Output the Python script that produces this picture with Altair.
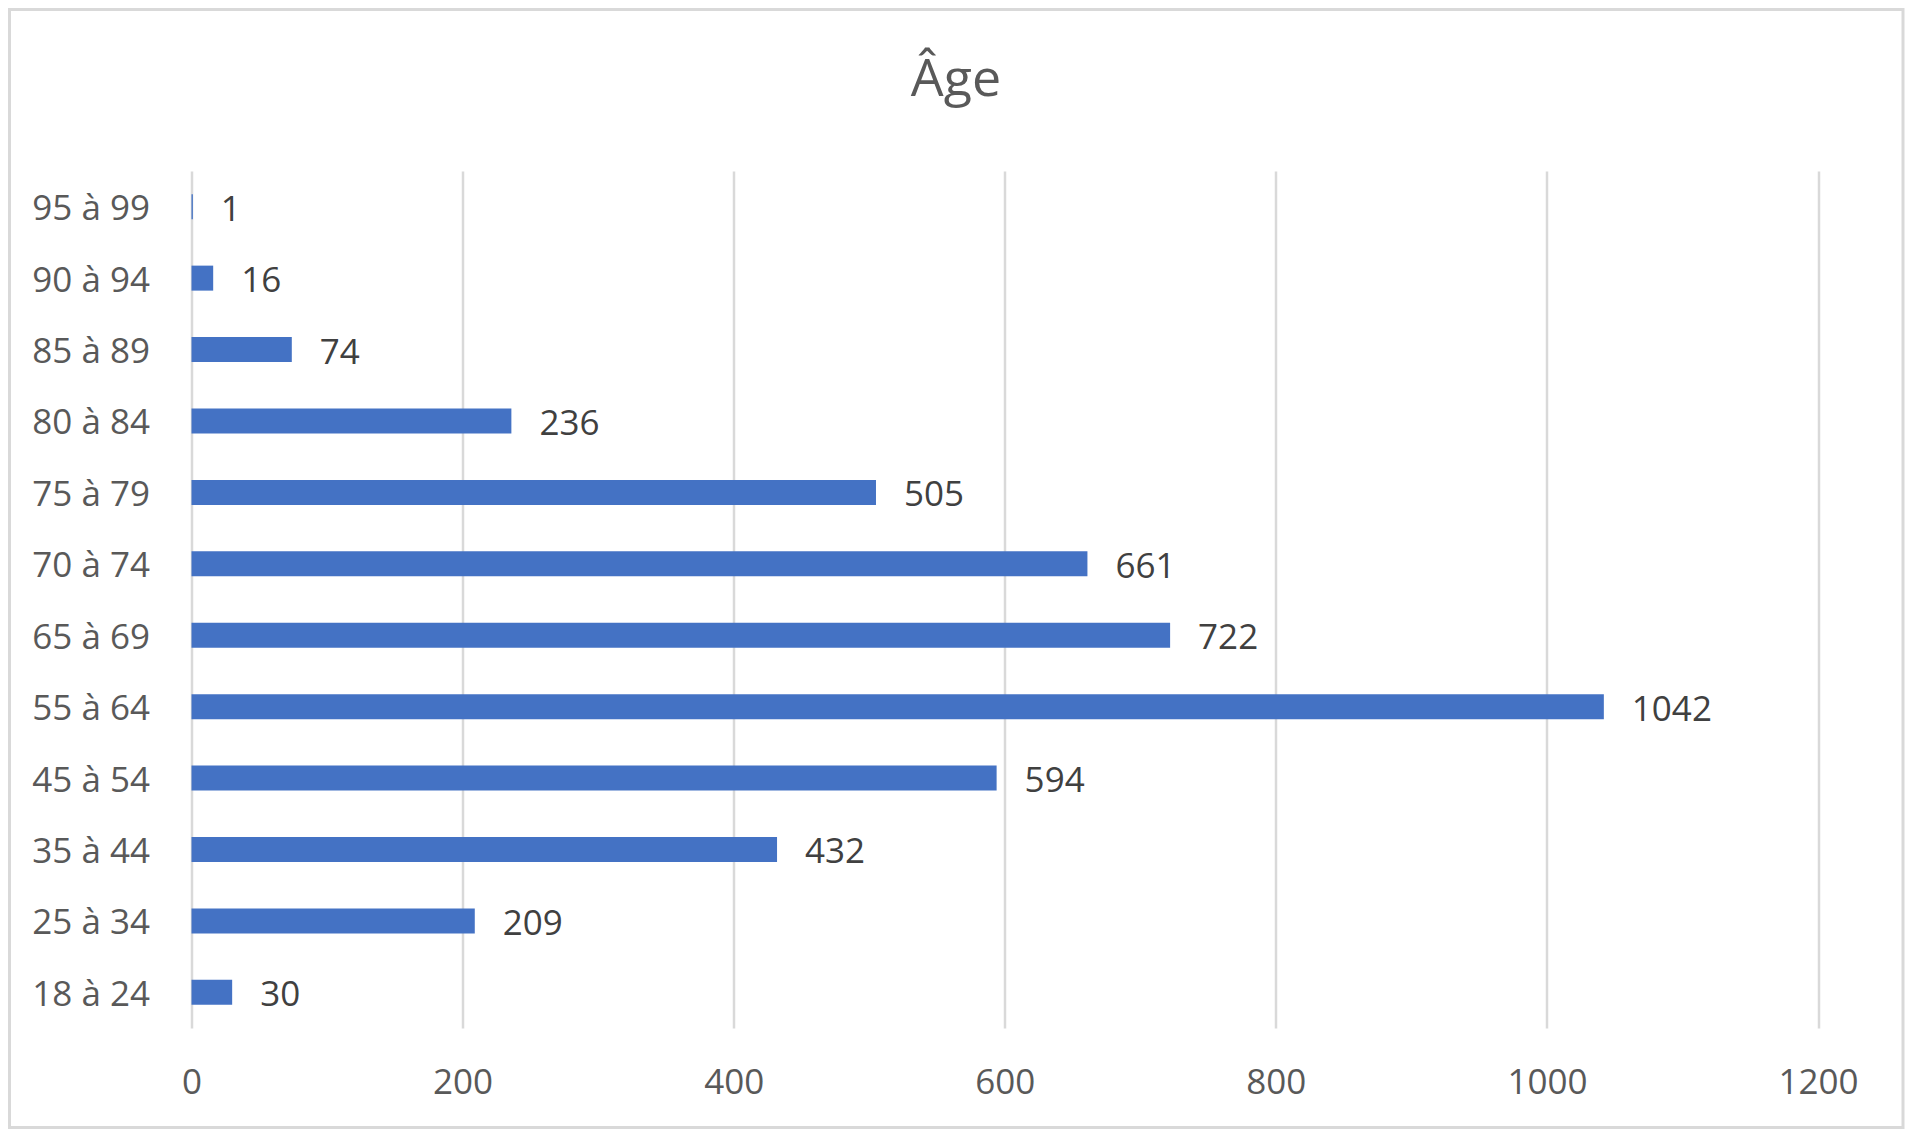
import altair as alt
import pandas as pd

categories = ["18 à 24", "25 à 34", "35 à 44", "45 à 54", "55 à 64", "65 à 69",
              "70 à 74", "75 à 79", "80 à 84", "85 à 89", "90 à 94", "95 à 99"]
counts = [30, 209, 432, 594, 1042, 722, 661, 505, 236, 74, 16, 1]
x_ticks = [0, 200, 400, 600, 800, 1000, 1200]
title_text = "Âge"

df = pd.DataFrame({"cat": categories, "n": counts})

W, H = 1626.5, 857
FONT = "Open Sans"

y_enc = alt.Y("cat:N", sort=categories[::-1], title=None,
              scale=alt.Scale(paddingInner=0, paddingOuter=0),
              axis=alt.Axis(domain=False, ticks=False, grid=False, labelFont=FONT,
                            labelFontSize=35, labelColor="#595959", labelPadding=42,
                            labelOffset=2.5))
x_enc = alt.X("n:Q", title=None,
              scale=alt.Scale(domain=[0, 1200], nice=False),
              axis=alt.Axis(values=x_ticks, format="d", domain=False, ticks=False, grid=True,
                            gridColor="#d9d9d9", gridWidth=2.5, labelFont=FONT,
                            labelFontSize=35, labelColor="#595959", labelPadding=37,
                            labelFlush=False))

bars = alt.Chart(df).mark_bar(size=25, color="#4472c4").encode(x=x_enc, y=y_enc)

labels = alt.Chart(df).mark_text(align="left", baseline="middle", dx=28, dy=3, font=FONT,
                                 fontSize=35, color="#404040").encode(
    x="n:Q", y=alt.Y("cat:N", sort=categories[::-1]), text="n:Q")

title = alt.Chart(pd.DataFrame({"t": [title_text]})).mark_text(
    align="center", baseline="alphabetic", font=FONT, fontSize=52, color="#595959"
).encode(x=alt.value(764.5), y=alt.value(-75), text="t:N")

border = alt.Chart(pd.DataFrame({"a": [0]})).mark_rect(
    fill=None, stroke="#d9d9d9", strokeWidth=3, clip=False
).encode(x=alt.value(-182), x2=alt.value(1711.5), y=alt.value(-161.5), y2=alt.value(956.5))

chart = alt.layer(bars, labels, title, border).properties(
    width=W, height=H,
    background="white",
    autosize=alt.AutoSizeParams(type="none"),
    padding={"left": 183.5, "top": 163, "right": 87, "bottom": 101},
).configure_view(strokeWidth=0, stroke=None)

chart.save("out.html", embed_options={"renderer": "svg", "actions": False})
